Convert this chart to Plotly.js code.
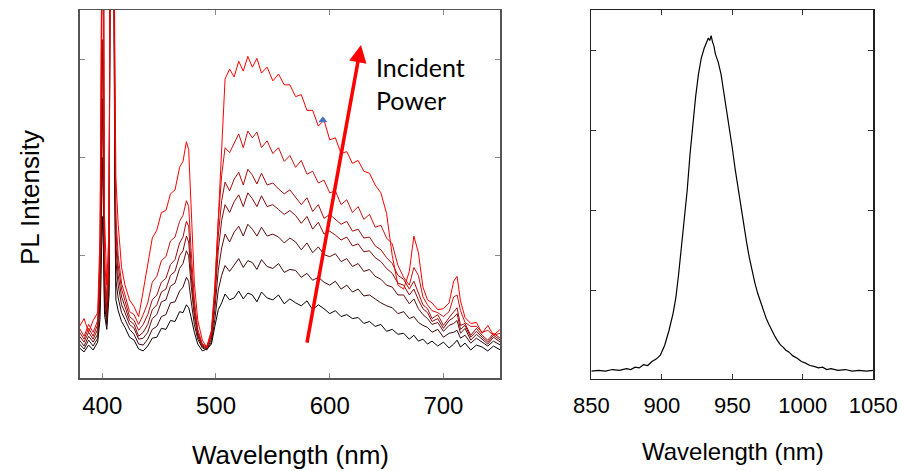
<!DOCTYPE html>
<html><head><meta charset="utf-8">
<script src="https://cdn.plot.ly/plotly-3.0.1.min.js"></script>
<style>html,body{margin:0;padding:0;background:#fff}#chart{width:901px;height:471px}</style>
</head><body><div id="chart"></div>
<script>
// ---- Left panel: PL spectra at increasing incident power (arbitrary units) ----
const wavelength = [380,384,388,392,396,398,399,400,401,402,404,406,407,408,409,410,411,412,414,417,420,424,428,432,436,440,444,448,452,456,460,464,468,471,474,476,478,481,484,488,492,496,499,502,505,508,512,516,520,524,528,532,536,540,545,550,555,560,565,570,575,580,585,590,595,600,605,610,615,620,625,630,635,640,645,650,655,660,665,670,674,678,682,686,690,695,700,705,709,712,715,719,724,729,734,739,744,750];

const power1 = [0.06,0.02,0.09,0.04,0.12,0.35,0.8,1.4,1.1,0.4,0.25,0.6,5,5,5,5,1.6,0.55,0.44,0.33,0.27,0.17,0.14,0.05,0.03,0.08,0.16,0.17,0.26,0.25,0.34,0.33,0.43,0.42,0.5,0.47,0.38,0.22,0.1,0.03,0.05,0.1,0.28,0.45,
  0.52,0.61,0.55,0.57,0.64,0.56,0.62,0.6,0.53,0.63,0.57,0.55,0.6,0.51,0.56,0.52,0.49,0.54,0.45,0.5,0.46,0.41,0.44,0.38,0.4,0.36,0.37,0.31,0.33,0.28,0.3,0.23,0.25,0.2,0.21,0.15,0.19,0.13,0.15,0.1,0.13,0.08,0.12,0.06,0.1,0.14,0.07,0.11,0.04,0.09,0.07,0.03,0.08,0.04];
const power2 = [0.1,0.05,0.14,0.08,0.16,0.5,1.2,2.0,1.5,0.5,0.3,0.7,5,5,5,5,1.9,0.75,0.57,0.42,0.35,0.25,0.2,0.1,0.09,0.15,0.25,0.28,0.38,0.4,0.52,0.53,0.64,0.68,0.78,0.74,0.55,0.3,0.15,0.06,0.04,0.12,0.35,0.65,
  0.8,0.9,0.84,0.91,0.97,0.88,0.95,0.93,0.86,0.96,0.89,0.87,0.92,0.83,0.86,0.85,0.78,0.82,0.75,0.78,0.73,0.7,0.74,0.66,0.7,0.63,0.66,0.59,0.6,0.56,0.52,0.49,0.47,0.41,0.43,0.36,0.38,0.32,0.29,0.27,0.22,0.25,0.17,0.21,0.22,0.24,0.16,0.19,0.11,0.16,0.12,0.08,0.13,0.09];
const power3 = [0.14,0.08,0.18,0.12,0.2,0.6,1.5,2.6,1.8,0.6,0.35,0.8,5,5,5,5,2.1,0.95,0.7,0.5,0.42,0.3,0.26,0.15,0.16,0.22,0.36,0.4,0.53,0.55,0.69,0.72,0.87,0.92,1.05,1.0,0.72,0.38,0.18,0.07,0.05,0.15,0.45,0.85,
  1.08,1.22,1.14,1.24,1.3,1.2,1.32,1.27,1.2,1.29,1.2,1.22,1.19,1.13,1.18,1.14,1.06,1.13,1.03,1.09,1.01,0.99,1.02,0.94,0.97,0.89,0.92,0.84,0.86,0.79,0.76,0.7,0.68,0.6,0.6,0.51,0.56,0.46,0.4,0.36,0.3,0.32,0.23,0.29,0.31,0.34,0.21,0.26,0.14,0.2,0.15,0.1,0.17,0.12];
const power4 = [0.18,0.12,0.22,0.15,0.25,0.7,1.8,3.2,2.2,0.7,0.4,0.9,5,5,5,5,2.3,1.1,0.8,0.58,0.48,0.34,0.3,0.18,0.22,0.3,0.45,0.5,0.63,0.66,0.8,0.84,1.0,1.05,1.2,1.14,0.82,0.42,0.2,0.08,0.06,0.18,0.55,1.05,
  1.36,1.52,1.44,1.55,1.62,1.5,1.64,1.58,1.5,1.61,1.5,1.52,1.47,1.42,1.46,1.41,1.33,1.4,1.27,1.34,1.22,1.25,1.21,1.16,1.19,1.1,1.12,1.04,1.05,0.98,0.94,0.87,0.82,0.72,0.7,0.6,0.66,0.55,0.46,0.42,0.33,0.36,0.26,0.34,0.37,0.41,0.25,0.29,0.17,0.23,0.17,0.12,0.19,0.14];
const power5 = [0.22,0.15,0.26,0.18,0.3,0.85,2.2,5,3,0.8,0.45,1.0,5,5,5,5,2.5,1.25,0.9,0.66,0.54,0.38,0.34,0.24,0.3,0.4,0.55,0.6,0.73,0.77,0.91,0.96,1.13,1.19,1.35,1.3,0.92,0.48,0.22,0.09,0.07,0.2,0.6,1.2,
  1.56,1.75,1.66,1.78,1.85,1.72,1.88,1.82,1.73,1.84,1.72,1.74,1.68,1.63,1.67,1.6,1.52,1.59,1.45,1.52,1.38,1.42,1.37,1.32,1.35,1.25,1.27,1.18,1.19,1.1,1.06,0.98,0.92,0.8,0.76,0.66,0.74,0.62,0.5,0.46,0.36,0.4,0.29,0.37,0.43,0.47,0.29,0.31,0.19,0.26,0.19,0.14,0.21,0.16];
const power6 = [0.26,0.18,0.3,0.22,0.34,1.0,2.6,5,5,1.0,0.55,1.1,5,5,5,5,2.7,1.4,1.0,0.72,0.6,0.43,0.4,0.3,0.4,0.52,0.73,0.79,0.95,0.99,1.15,1.19,1.35,1.41,1.56,1.5,1.08,0.55,0.25,0.1,0.08,0.24,0.7,1.35,
  1.82,2.1,2.05,2.14,2.24,2.1,2.27,2.2,2.26,2.1,2.17,2.04,2.1,1.96,2.02,1.9,1.97,1.83,1.86,1.74,1.77,1.64,1.66,1.52,1.57,1.44,1.5,1.37,1.42,1.29,1.31,1.18,1.12,0.9,0.78,0.7,0.88,0.8,0.58,0.5,0.44,0.42,0.38,0.43,0.58,0.6,0.44,0.32,0.28,0.28,0.22,0.24,0.19,0.21];
const power7 = [0.28,0.36,0.22,0.34,0.42,1.2,3.0,5,5,1.4,0.7,1.3,5,5,5,5,3.2,1.8,1.32,0.88,0.7,0.55,0.48,0.38,0.64,0.92,1.18,1.26,1.44,1.46,1.63,1.67,1.9,1.96,2.16,2.08,1.5,0.72,0.34,0.14,0.06,0.22,0.65,1.4,
  2.2,2.8,2.9,2.82,2.98,2.88,3.03,2.92,3.01,2.86,2.92,2.78,2.85,2.74,2.74,2.62,2.64,2.48,2.48,2.32,2.38,2.18,2.2,2.04,2.06,1.94,1.97,1.86,1.84,1.72,1.64,1.43,1.0,0.7,0.66,0.84,1.2,1.03,0.68,0.55,0.52,0.45,0.46,0.52,0.74,0.79,0.54,0.37,0.31,0.32,0.21,0.29,0.19,0.25];

const powerSeries = [power1, power2, power3, power4, power5, power6, power7];
const powerColors = ['#000000','#3d0808','#5e0c0c','#860a0a','#a80a0a','#cc1212','#ff0000'];

const markX = [594];
const markY = [2.38];

const leftTicks = [400, 500, 600, 700];
const leftYTicks = [1, 2, 3];

// ---- Right panel: single PL peak ----
const wavelength2 = [850,855,860,865,870,875,878,881,884,887,890,893,896,899,902,905,908,910,912,914,916,918,920,922,924,926,928,930,932,933,934,935,936,937,938,940,942,944,946,948,950,952,954,956,958,960,962,964,966,968,970,972,974,976,978,980,982,984,986,988,990,993,996,999,1002,1005,1008,1011,1014,1017,1020,1025,1030,1035,1040,1045,1050];
const intensity2 = [0.0,0.01,0.0,0.02,0.01,0.03,0.02,0.05,0.04,0.08,0.07,0.12,0.15,0.2,0.32,0.5,0.72,0.92,1.22,1.55,1.9,2.25,2.7,3.1,3.42,3.7,3.9,4.02,4.1,4.15,4.12,4.18,4.1,4.05,3.95,3.85,3.7,3.48,3.22,3.0,2.78,2.52,2.28,2.05,1.85,1.62,1.42,1.25,1.1,0.97,0.86,0.75,0.66,0.58,0.5,0.44,0.38,0.33,0.3,0.26,0.24,0.19,0.16,0.12,0.1,0.07,0.06,0.04,0.05,0.02,0.03,0.01,0.02,0.0,0.01,0.0,0.01];
const rightTicks = [850, 900, 950, 1000, 1050];
const rightYTicks = [1, 2, 3, 4];

const W = 901, H = 471;
const px = v => v / W, py = v => 1 - v / H;

const traces = powerSeries.map((s, i) => ({
  x: wavelength, y: s, type: 'scatter', mode: 'lines',
  line: {color: powerColors[i], width: 1}, xaxis: 'x', yaxis: 'y', hoverinfo: 'skip'
}));
traces.push({x: markX, y: markY, type: 'scatter', mode: 'markers',
  marker: {symbol: 'triangle-up', size: 8, color: '#4472c4'}, xaxis: 'x', yaxis: 'y'});
traces.push({x: wavelength2, y: intensity2, type: 'scatter', mode: 'lines',
  line: {color: '#000000', width: 1.2}, xaxis: 'x2', yaxis: 'y2'});

const axFont = {family: 'Liberation Sans, Arial, sans-serif', color: '#000'};
const layout = {
  width: W, height: H, margin: {l: 0, r: 0, t: 0, b: 0},
  paper_bgcolor: '#fff', plot_bgcolor: '#fff', showlegend: false,
  xaxis: {domain: [px(79.5), px(500.3)], range: [380, 750], tickvals: leftTicks,
    ticks: 'inside', ticklen: 5, tickcolor: '#888', tickwidth: 1,
    showline: true, linecolor: '#555', linewidth: 1.5, mirror: 'ticks',
    showgrid: false, zeroline: false, automargin: false, anchor: 'y',
    tickfont: Object.assign({size: 24}, axFont), ticklabelstandoff: 5},
  yaxis: {domain: [py(378.3), py(10)], range: [-0.2485, 3.502], tickvals: leftYTicks,
    ticks: 'inside', ticklen: 5, tickcolor: '#888', tickwidth: 1,
    showline: true, linecolor: '#555', linewidth: 1.5, mirror: 'ticks',
    showgrid: false, zeroline: false, showticklabels: false, automargin: false, anchor: 'x'},
  xaxis2: {domain: [px(591.3), px(873.3)], range: [850, 1050], tickvals: rightTicks,
    ticks: 'inside', ticklen: 5, tickcolor: '#333', tickwidth: 1,
    showline: true, linecolor: '#222', linewidth: 1.2, mirror: 'ticks',
    showgrid: false, zeroline: false, automargin: false, anchor: 'y2',
    tickfont: Object.assign({size: 22}, axFont), ticklabelstandoff: 6},
  yaxis2: {domain: [py(379), py(10)], range: [-0.098, 4.5], tickvals: rightYTicks,
    ticks: 'inside', ticklen: 5, tickcolor: '#333', tickwidth: 1,
    showline: true, linecolor: '#222', linewidth: 1.2, mirror: 'ticks',
    showgrid: false, zeroline: false, showticklabels: false, automargin: false, anchor: 'x2'},
  annotations: [
    {xref: 'x', yref: 'y', x: 627.5, y: 3.146, axref: 'x', ayref: 'y', ax: 579.8, ay: 0.1,
      showarrow: true, arrowhead: 2, arrowsize: 1, arrowwidth: 3.5, arrowcolor: '#ff0000', text: ''},
    {xref: 'x', yref: 'y', x: 639, y: 2.75, xanchor: 'left', yanchor: 'middle', align: 'left',
      showarrow: false, text: 'Incident<br>Power',
      font: {family: 'Lato, Open Sans, sans-serif', size: 25, color: '#000'}},
    {xref: 'paper', yref: 'paper', x: px(290), y: py(455), xanchor: 'center', yanchor: 'middle',
      showarrow: false, text: 'Wavelength (nm)', font: Object.assign({size: 26}, axFont)},
    {xref: 'paper', yref: 'paper', x: px(732.5), y: py(451), xanchor: 'center', yanchor: 'middle',
      showarrow: false, text: 'Wavelength (nm)', font: Object.assign({size: 24}, axFont)},
    {xref: 'paper', yref: 'paper', x: px(29.5), y: py(197.5), xanchor: 'center', yanchor: 'middle',
      textangle: -90, showarrow: false, text: 'PL Intensity', font: Object.assign({size: 26}, axFont)}
  ]
};
Plotly.newPlot('chart', traces, layout, {staticPlot: true, displayModeBar: false});
</script>
</body></html>
